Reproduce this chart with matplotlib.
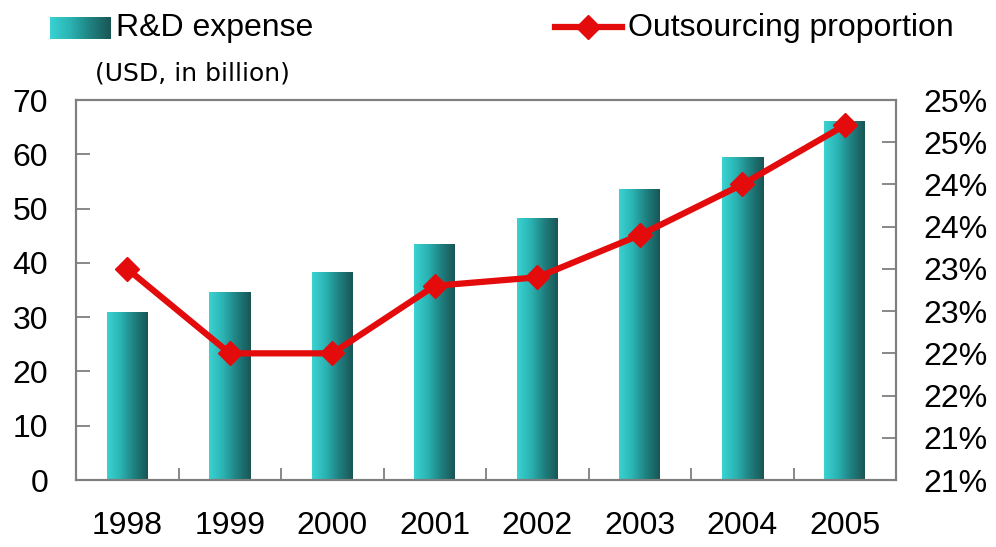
"""
R&D expense (bars) and outsourcing proportion (line), 1998-2005
"""
import numpy as np
import matplotlib
matplotlib.use('Agg')
from matplotlib import pyplot as plt
from matplotlib.colors import LinearSegmentedColormap
from matplotlib.lines import Line2D
from matplotlib.ticker import FixedLocator, FuncFormatter

years = ['1998', '1999', '2000', '2001', '2002', '2003', '2004', '2005']
rd_expense = [30.8, 34.6, 38.3, 43.3, 48.1, 53.6, 59.5, 66.1]
outsourcing = [23.0, 22.0, 22.0, 22.8, 22.9, 23.4, 24.0, 24.7]
left_ticks = [0, 10, 20, 30, 40, 50, 60, 70]
right_ticks = [20.5, 21.0, 21.5, 22.0, 22.5, 23.0, 23.5, 24.0, 24.5, 25.0]

plt.rcParams['font.family'] = ['Liberation Sans', 'DejaVu Sans']

teal = LinearSegmentedColormap.from_list('teal', ['#3ad2d2', '#2bb3b3', '#1f8080', '#1a5656'])
red = '#e30b0b'
grey = '#7f7f7f'

fig = plt.figure(figsize=(9.96, 5.47), dpi=100)
ax = fig.add_axes([76 / 996, 67 / 547, 820 / 996, 380 / 547])

x = np.arange(len(years))
bars = ax.bar(x, rd_expense, width=0.4, color='none', edgecolor='none')
grad = np.linspace(0, 1, 100).reshape(1, -1)
for b in bars:
    ax.imshow(grad, extent=[b.get_x(), b.get_x() + b.get_width(), 0, b.get_height()],
              aspect='auto', cmap=teal, zorder=2)

ax.set_xlim(-0.5, len(years) - 0.5)
ax.set_ylim(0, 70)
ax.set_yticks(left_ticks)
ax.set_xticks(x)
ax.set_xticklabels(years, fontsize=23)
ax.xaxis.set_minor_locator(FixedLocator(np.arange(0.5, len(years) - 1, 1)))
ax.tick_params(axis='x', which='major', length=0, pad=22)
ax.tick_params(axis='x', which='minor', direction='in', length=9, width=1.3, color=grey)
ax.tick_params(axis='y', direction='in', length=10, width=1.3, color=grey, labelsize=23, pad=20)
for s in ax.spines.values():
    s.set_color(grey)
    s.set_linewidth(1.5)

ax2 = ax.twinx()
ax2.plot(x, outsourcing, color=red, lw=4.5, marker='D', markersize=12, zorder=3)
ax2.set_ylim(20.5, 25.0)
ax2.set_yticks(right_ticks)
ax2.yaxis.set_major_formatter(FuncFormatter(lambda v, p: '{}%'.format(int(np.floor(v + 0.5)))))
ax2.tick_params(axis='y', direction='in', length=10, width=1.3, color=grey, labelsize=23, pad=20)
for s in ax2.spines.values():
    s.set_color(grey)
    s.set_linewidth(1.5)

# legend, drawn by hand as in the original
lax = fig.add_axes([50 / 996, 1 - 39 / 547, 60 / 996, 22 / 547])
lax.imshow(grad, aspect='auto', cmap=teal)
lax.axis('off')
fig.text(116 / 996, 1 - 28 / 547, 'R&D expense', fontsize=23, va='center', ha='left')
fig.text(95 / 996, 1 - 73 / 547, '(USD, in billion)', fontsize=18, va='center', ha='left',
         family=['DejaVu Sans'])
fig.lines.append(Line2D([555 / 996, 622 / 996], [1 - 27 / 547, 1 - 27 / 547], transform=fig.transFigure,
                        color=red, lw=4.5))
fig.lines.append(Line2D([588 / 996], [1 - 27 / 547], transform=fig.transFigure,
                        color=red, marker='D', markersize=12, lw=0))
fig.text(628 / 996, 1 - 28 / 547, 'Outsourcing proportion', fontsize=23, va='center', ha='left')

fig.savefig('out.png', dpi=100)
